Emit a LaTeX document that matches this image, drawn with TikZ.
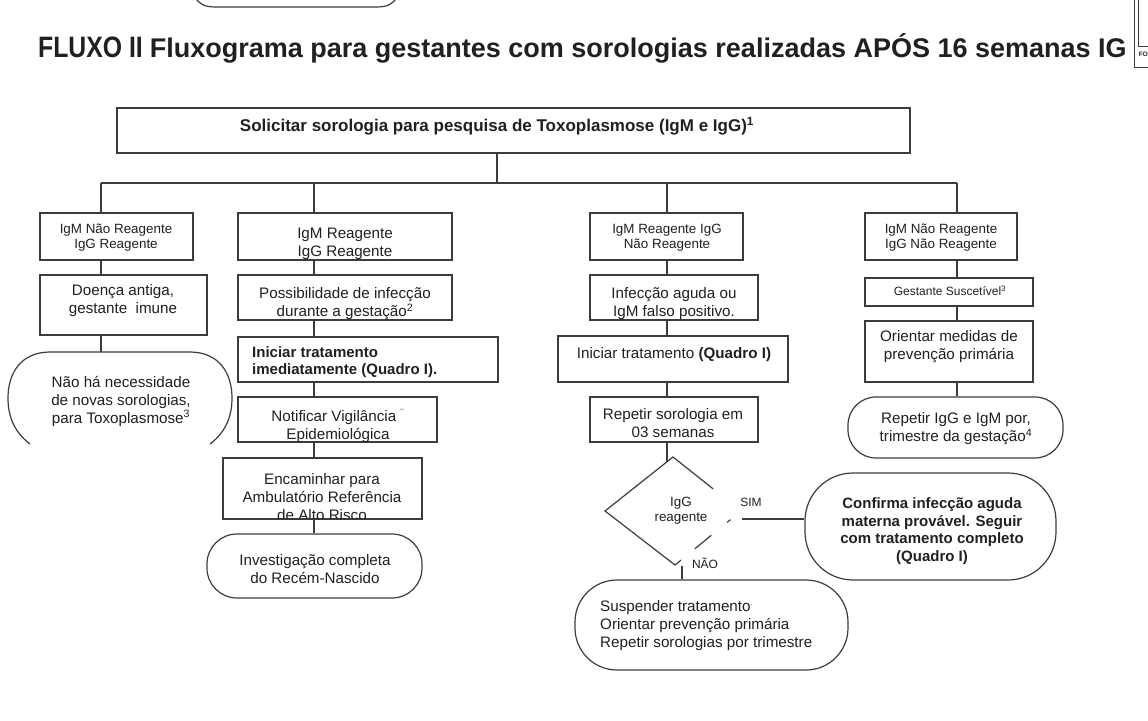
\documentclass[tikz,border=0pt]{standalone}
\usepackage{fontspec}
\usepackage{graphicx}
\setmainfont{Liberation Sans}
\usetikzlibrary{fit,calc}
\definecolor{ln}{HTML}{3C3C3C}
\definecolor{tx}{HTML}{202020}
\tikzset{
  box/.style={draw=ln, line width=1.2pt, inner sep=0pt, rectangle},
  rbox/.style={box, rounded corners=#1},
  hid/.style={inner sep=0pt, rectangle},
  wire/.style={draw=ln, line width=1.2pt},
  t/.style={text=tx, inner sep=0pt, align=center},
  f11/.style={t, font=\fontsize{12}{14}\selectfont},
  f12/.style={t, font=\fontsize{13.4}{15}\selectfont},
  f15/.style={t, font=\fontsize{15.2}{18}\selectfont},
  b15/.style={t, font=\fontsize{15}{17.7}\selectfont\bfseries},
}
\begin{document}
\begin{tikzpicture}[x=1pt,y=-1pt]
\useasboundingbox (0,0) rectangle (1148,720);
\fill[white] (0,0) rectangle (1148,720);

% remnants of the previous page
\draw[wire] (195,-3) .. controls (199,4) and (204,7) .. (216,7) -- (376,7) .. controls (388,7) and (393,4) .. (397,-3);
\draw[draw=ln, line width=0.8pt] (1134,0) -- (1134,67) -- (1150,67);
\draw[draw=ln, line width=0.8pt] (1138,0) -- (1138,46) -- (1150,46);
\node[t, anchor=west, font=\fontsize{6.5}{8}\selectfont\bfseries] (fo) at (1138.6,54) {FO};

% title
\node[t, anchor=base west] (title) at (38,57) {\bfseries\scalebox{0.84}[1]{\fontsize{29.5}{30}\selectfont FLUXO II}\hspace{7pt}{\fontsize{27}{30}\selectfont Fluxograma para gestantes com sorologias realizadas APÓS 16 semanas IG}};

% top box
\node[box, fit={(117,108) (910,153)}] (top) {};
\node[t, font=\fontsize{17}{19}\selectfont\bfseries] (toptxt) at (497,126) {Solicitar sorologia para pesquisa de Toxoplasmose (IgM e IgG)\textsuperscript{1}};

% column x positions
\coordinate (x0) at (497,183);
\coordinate (x1) at (101,183);
\coordinate (x2) at (314,183);
\coordinate (x3) at (667,183);
\coordinate (x4) at (957,183);

% ---------- column 1
\node[box, fit={(40,213) (193,260)}] (c1a) {};
\node[f12] at (116,238) {IgM Não Reagente\\IgG Reagente};
\node[box, fit={(40,275) (207,335)}] (c1b) {};
\node[f15] at (123,301) {Doença antiga,\\gestante\ \ imune};
\node[hid, fit={(8,352) (232,445)}] (c1c) {};
\draw[wire] (30,444) .. controls (14,432) and (8,416) .. (8,398) .. controls (8,372) and (22,352) .. (50,352) -- (190,352) .. controls (218,352) and (232,372) .. (232,398) .. controls (232,416) and (226,432) .. (210,444);
\node[f15] at (121,401) {Não há necessidade\\de novas sorologias,\\para Toxoplasmose\textsuperscript{3}};

% ---------- column 2
\node[box, fit={(238,213) (452,260)}] (c2a) {};
\begin{scope}\clip (238,213) rectangle (452,259);
\node[f15] at (345,243.5) {IgM Reagente\\IgG Reagente};
\end{scope}
\node[box, fit={(238,275) (452,320)}] (c2b) {};
\begin{scope}\clip (238,275) rectangle (452,319);
\node[f15] at (345,304) {Possibilidade de infecção\\durante a gestação\textsuperscript{2}};
\end{scope}
\node[box, fit={(238,337) (498,382)}] (c2c) {};
\node[b15, align=left, anchor=west] at (252,362) {Iniciar tratamento\\imediatamente (Quadro I).};
\node[box, fit={(238,397) (437,442)}] (c2d) {};
\begin{scope}\clip (238,397) rectangle (437,441);
\node[f15] at (338,426) {Notificar Vigilância \textsuperscript{¨}\\Epidemiológica};
\end{scope}
\node[box, fit={(223,458) (422,519)}] (c2e) {};
\begin{scope}\clip (223,458) rectangle (422,518);
\node[f15] at (322,497.5) {Encaminhar para\\Ambulatório Referência\\de Alto Risco};
\end{scope}
\node[rbox=30pt, fit={(207,534) (422,598)}] (c2f) {};
\node[f15] at (315,569) {Investigação completa\\do Recém-Nascido};

% ---------- column 3
\node[box, fit={(590,213) (743,260)}] (c3a) {};
\node[f12] at (667,238) {IgM Reagente IgG\\Não Reagente};
\node[box, fit={(590,275) (758,320)}] (c3b) {};
\begin{scope}\clip (590,275) rectangle (758,319);
\node[f15] at (674,304) {Infecção aguda ou\\IgM falso positivo.};
\end{scope}
\node[box, fit={(558,336) (788,382)}] (c3c) {};
\node[f15] at (674,355) {Iniciar tratamento \textbf{(Quadro I)}};
\node[box, fit={(590,397) (758,442)}] (c3d) {};
\node[f15] at (673,423) {Repetir sorologia em\\03 semanas};

% decision
\coordinate (dT) at (673,457);
\coordinate (dL) at (605,511);
\coordinate (dB) at (675,565);
\coordinate (dR) at (741,511);
\coordinate (dIn) at (667,462);
\draw[wire] ($(dT)!0.59!(dR)$) -- (dT) -- (dL) -- (dB) -- ($(dB)!0.09!(dR)$);
\draw[wire] ($(dR)!0.16!(dB)$) -- ($(dR)!0.21!(dB)$);
\draw[wire] ($(dR)!0.45!(dB)$) -- ($(dR)!0.70!(dB)$);
\node[f12] (dtxt) at (681,511) {IgG\\reagente};
\node[f11] (sim) at (751,502) {SIM};
\node[f11] (nao) at (705,563) {NÃO};
\coordinate (simA) at (742,519);
\coordinate (naoA) at (682,566);

\node[rbox=48pt, fit={(805,473) (1056,580)}] (conf) {};
\node[b15] at (932,531) {Confirma infecção aguda\\materna provável. Seguir\\com tratamento completo\\(Quadro I)};
\node[rbox=42pt, fit={(575,580) (848,670)}] (susp) {};
\node[f15, align=left, anchor=west] at (600,626) {Suspender tratamento\textsuperscript{\tiny -}\\Orientar prevenção primária\\Repetir sorologias por trimestre};

% ---------- column 4
\node[box, fit={(865,213) (1017,260)}] (c4a) {};
\node[f12] at (941,238) {IgM Não Reagente\\IgG Não Reagente};
\node[box, fit={(865,278) (1033,306)}] (c4b) {};
\node[f11] at (950,291) {Gestante Suscetível\textsuperscript{3}};
\node[box, fit={(865,321) (1033,382)}] (c4c) {};
\node[f15] at (949,347) {Orientar medidas de\\prevenção primária};
\node[rbox=28pt, fit={(848,397) (1063,458)}] (c4d) {};
\node[f15] at (956,429) {Repetir IgG e IgM por,\\trimestre da gestação\textsuperscript{4}};

% ---------- connectors
\draw[wire] (top.south -| x0) -- (x0);
\draw[wire] (x1) -- (x4);
\draw[wire] (x1) -- (x1 |- c1a.north);
\draw[wire] (x2) -- (x2 |- c2a.north);
\draw[wire] (x3) -- (x3 |- c3a.north);
\draw[wire] (x4) -- (x4 |- c4a.north);

\draw[wire] (c1a.south -| x1) -- (c1b.north -| x1);
\draw[wire] (c1b.south -| x1) -- (c1c.north -| x1);

\draw[wire] (c2a.south -| x2) -- (c2b.north -| x2);
\draw[wire] (c2b.south -| x2) -- (c2c.north -| x2);
\draw[wire] (c2c.south -| x2) -- (c2d.north -| x2);
\draw[wire] (c2d.south -| x2) -- (c2e.north -| x2);
\draw[wire] (c2e.south -| x2) -- (c2f.north -| x2);

\draw[wire] (c3a.south -| x3) -- (c3b.north -| x3);
\draw[wire] (c3b.south -| x3) -- (c3c.north -| x3);
\draw[wire] (c3c.south -| x3) -- (c3d.north -| x3);
\draw[wire] (c3d.south -| x3) -- (dIn);
\draw[wire] (simA) -- (conf.west |- simA);
\draw[wire] (naoA) -- (naoA |- susp.north);

\draw[wire] (c4a.south -| x4) -- (c4b.north -| x4);
\draw[wire] (c4b.south -| x4) -- (c4c.north -| x4);
\draw[wire] (c4c.south -| x4) -- (c4d.north -| x4);
\end{tikzpicture}
\end{document}
